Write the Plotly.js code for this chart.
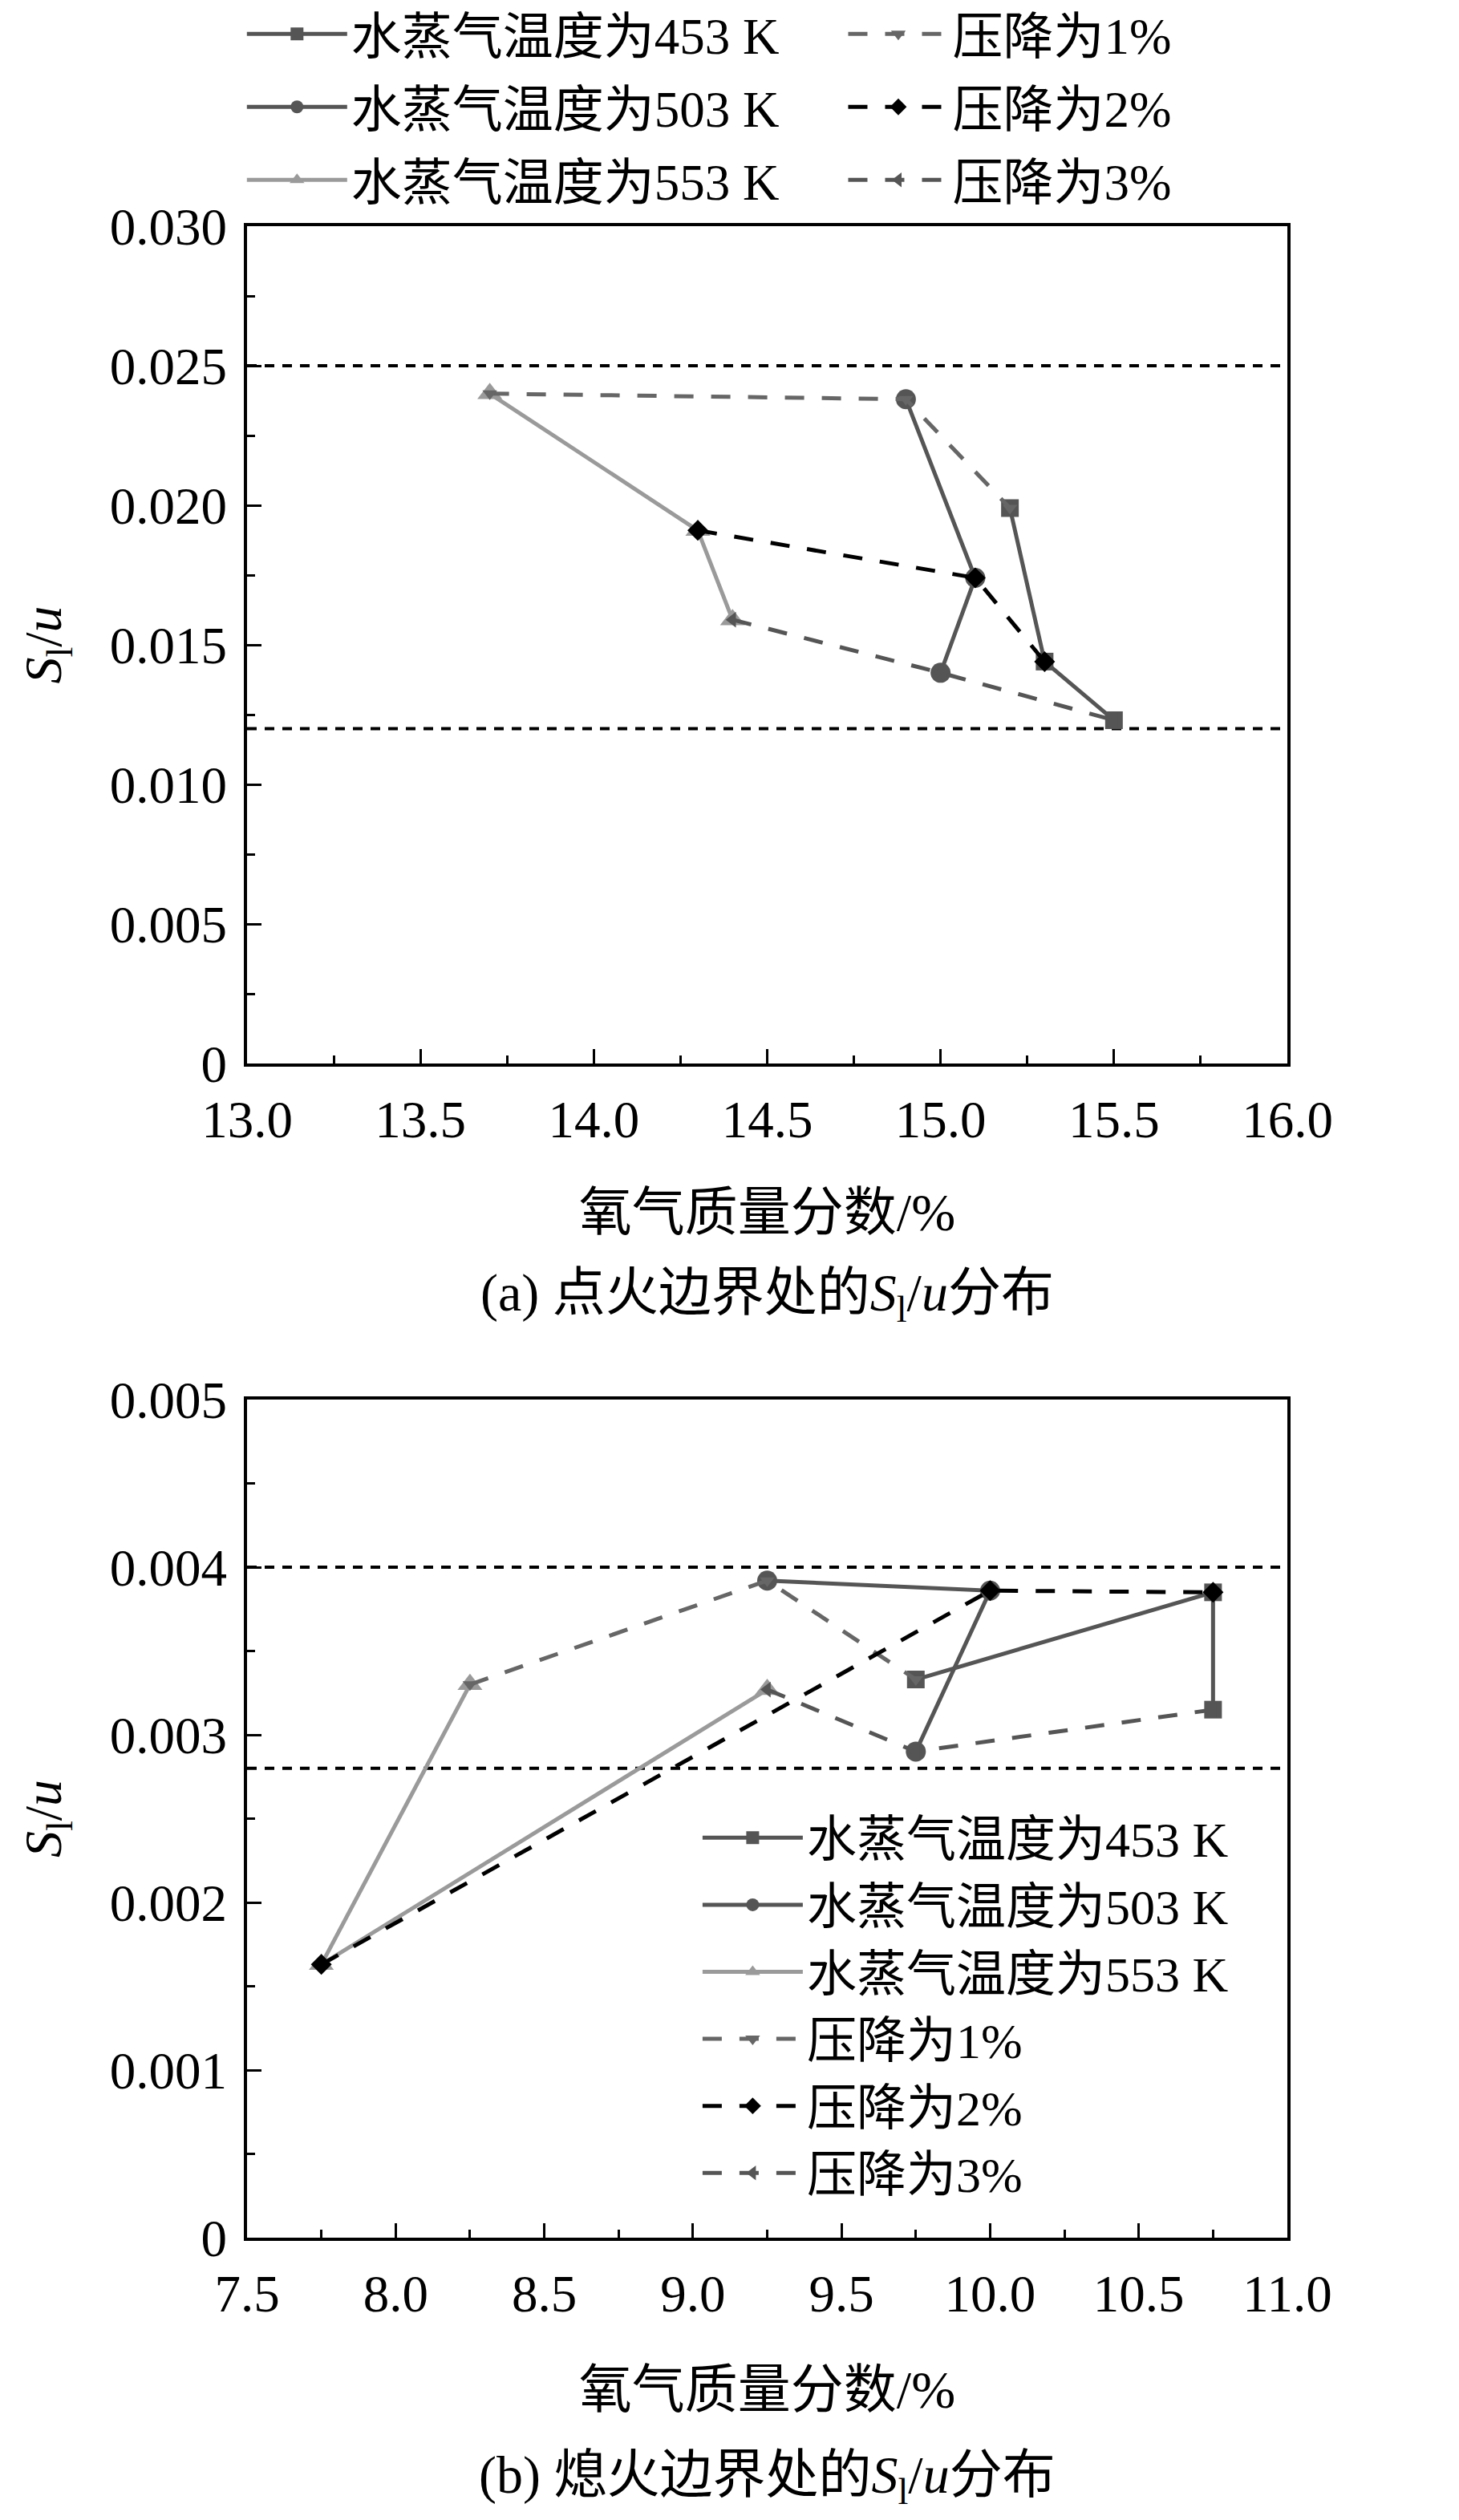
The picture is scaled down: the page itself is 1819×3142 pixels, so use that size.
<!DOCTYPE html>
<html>
<head>
<meta charset="utf-8">
<script src="https://cdn.plot.ly/plotly-3.0.1.min.js"></script>
<style>
  body { margin: 0; background: #fff; overflow: hidden; }
  #chartA { position: absolute; left: 0; top: -23px; width: 1819px; height: 1703px; }
  #chartB { position: absolute; left: 0; top: 1680px; width: 1819px; height: 1462px; }
</style>
</head>
<body>
<div id="chartA"></div>
<div id="chartB"></div>
<script>
// values per steam temperature, ordered by pressure drop 1%, 2%, 3%
let tempNames = ["水蒸气温度为453 K", "水蒸气温度为503 K", "水蒸气温度为553 K"];
let dropNames = ["压降为1%", "压降为2%", "压降为3%"];

// (a) ignition boundary
let a453x = [15.2, 15.3, 15.5];
let a453y = [0.0199, 0.0144, 0.0123];
let a503x = [14.9, 15.1, 15.0];
let a503y = [0.0238, 0.0174, 0.0140];
let a553x = [13.7, 14.3, 14.4];
let a553y = [0.0240, 0.0191, 0.0159];
let aRefLines = [0.025, 0.012];
let aRefText = ["0.025", "0.012"];
let aYTicks = [0, 0.005, 0.010, 0.015, 0.020, 0.025, 0.030];
let aYText = ["0", "0.005", "0.010", "0.015", "0.020", "0.025", "0.030"];

// (b) extinction boundary
let b453x = [9.75, 10.75, 10.75];
let b453y = [0.00333, 0.00385, 0.00315];
let b503x = [9.25, 10.0, 9.75];
let b503y = [0.00392, 0.00386, 0.00290];
let b553x = [8.25, 7.75, 9.25];
let b553y = [0.00330, 0.00163, 0.00327];
let bRefLines = [0.004, 0.0028];
let bRefText = ["0.004", "0.0028"];
let bYTicks = [0, 0.001, 0.002, 0.003, 0.004, 0.005];
let bYText = ["0", "0.001", "0.002", "0.003", "0.004", "0.005"];

let fontFamily = '"Liberation Serif", "Times New Roman", "Noto Sans CJK SC", serif';

let tempStyles = [
  { color: "#555555", symbol: "square", size: 22 },
  { color: "#555555", symbol: "circle", size: 25 },
  { color: "#9a9a9a", symbol: "triangle-up", size: 27 },
];
let dropStyles = [
  { color: "#666666", symbol: "triangle-down", size: 16 },
  { color: "#000000", symbol: "diamond", size: 20 },
  { color: "#555555", symbol: "triangle-left", size: 17 },
];

function buildTraces(xs, ys, xRange, refLines, legendTemp, legendDrop) {
  let traces = [];

  refLines.forEach((v) => {
    traces.push({
      type: "scatter", mode: "lines",
      x: xRange, y: [v, v],
      line: { color: "#000", width: 4, dash: "12px,10px" },
      showlegend: false, hoverinfo: "skip",
    });
  });

  // solid lines: one per temperature
  for (let t = 0; t < 3; t++) {
    traces.push({
      type: "scatter", mode: "lines+markers",
      name: tempNames[t], legend: legendTemp, legendgroup: "t" + t,
      x: xs[t], y: ys[t],
      line: { color: tempStyles[t].color, width: 5 },
      marker: { symbol: tempStyles[t].symbol, size: tempStyles[t].size, color: tempStyles[t].color, line: { width: 0 } },
    });
  }

  // dashed lines: one per pressure drop, going 553 K -> 503 K -> 453 K
  for (let d = 0; d < 3; d++) {
    traces.push({
      type: "scatter", mode: "lines+markers",
      name: dropNames[d], legend: legendDrop, legendgroup: "d" + d,
      x: [xs[2][d], xs[1][d], xs[0][d]],
      y: [ys[2][d], ys[1][d], ys[0][d]],
      line: { color: dropStyles[d].color, width: 5, dash: "24px,22px" },
      marker: { symbol: dropStyles[d].symbol, size: dropStyles[d].size, color: dropStyles[d].color, line: { width: 0 } },
    });
  }
  return traces;
}

function baseLayout(xRange, yRange, yTicks, yText, refVals, refText, caption, height, margin) {
  return {
    width: 1819, height: height,
    margin: margin,
    paper_bgcolor: "rgba(0,0,0,0)", plot_bgcolor: "#fff",
    font: { family: fontFamily, size: 66, color: "#000" },
    showlegend: true,
    xaxis: {
      range: xRange, tick0: xRange[0], dtick: 0.5, tickformat: ".1f",
      showline: true, mirror: true, linecolor: "#000", linewidth: 4,
      ticks: "inside", ticklen: 18, tickwidth: 3, tickcolor: "#000",
      minor: { dtick: 0.25, tick0: xRange[0], ticks: "inside", ticklen: 10, tickwidth: 3, tickcolor: "#000" },
      showgrid: false, zeroline: false,
      tickfont: { size: 65 },
      ticklabelstandoff: 10,
      automargin: true,
      title: { text: "氧气质量分数/%", standoff: 62, font: { size: 66 } },
    },
    yaxis: {
      range: yRange, tickmode: "array", tickvals: yTicks, ticktext: yText,
      showline: true, mirror: true, linecolor: "#000", linewidth: 4,
      ticks: "inside", ticklen: 18, tickwidth: 3, tickcolor: "#000",
      minor: { dtick: yTicks[1] / 2, tick0: 0, ticks: "inside", ticklen: 10, tickwidth: 3, tickcolor: "#000" },
      showgrid: false, zeroline: false,
      tickfont: { size: 65 },
      ticklabelstandoff: 8,
      automargin: true,
      title: { text: "<i>S</i><sub>l</sub>/<i>u</i>", standoff: 40, font: { size: 66 } },
    },
    yaxis2: {
      overlaying: "y", side: "right", anchor: "x",
      range: yRange, tickmode: "array", tickvals: refVals, ticktext: refText,
      showline: false, ticks: "", showgrid: false, zeroline: false,
      tickfont: { size: 65 },
      ticklabelstandoff: 14,
    },
    annotations: [{
      text: caption, xref: "paper", yref: "paper", x: 0.5, y: 0,
      showarrow: false, xanchor: "center", yanchor: "middle",
      font: { size: 66 },
    }],
  };
}

// chart (a): its div starts above the page so the legend can sit at the very top
let aXRange = [13, 16];
let aTraces = buildTraces([a453x, a503x, a553x], [a453y, a503y, a553y], aXRange, aRefLines, "legend", "legend2");
let aLayout = baseLayout(aXRange, [0, 0.030], aYTicks, aYText, aRefLines, aRefText,
  "(a) 点火边界处的<i>S</i><sub>l</sub>/<i>u</i>分布", 1703,
  { l: 308, r: 214, t: 305, b: 354 });
aLayout.xaxis.title.standoff = 58;
aLayout.annotations[0].y = -0.278;
aLayout.legend = {
  x: -0.004, y: 1.275, xanchor: "left", yanchor: "top",
  bgcolor: "rgba(0,0,0,0)", itemwidth: 125, tracegroupgap: 6,
  font: { size: 63 },
};
aLayout.legend2 = {
  x: 0.574, y: 1.275, xanchor: "left", yanchor: "top",
  bgcolor: "rgba(0,0,0,0)", itemwidth: 125, tracegroupgap: 6,
  font: { size: 63 },
};
Plotly.newPlot("chartA", aTraces, aLayout, { staticPlot: true });

// chart (b)
let bXRange = [7.5, 11.0];
let bTraces = buildTraces([b453x, b503x, b553x], [b453y, b503y, b553y], bXRange, bRefLines, "legend", "legend");
let bLayout = baseLayout(bXRange, [0, 0.005], bYTicks, bYText, bRefLines, bRefText,
  "(b) 熄火边界处的<i>S</i><sub>l</sub>/<i>u</i>分布", 1462,
  { l: 308, r: 214, t: 65, b: 352 });
bLayout.annotations[0].y = -0.2874;
bLayout.legend = {
  x: 0.434, y: 0.522, xanchor: "left", yanchor: "top",
  bgcolor: "rgba(0,0,0,0)", itemwidth: 125,
  font: { size: 62 }, traceorder: "normal",
};
Plotly.newPlot("chartB", bTraces, bLayout, { staticPlot: true });
</script>
</body>
</html>
